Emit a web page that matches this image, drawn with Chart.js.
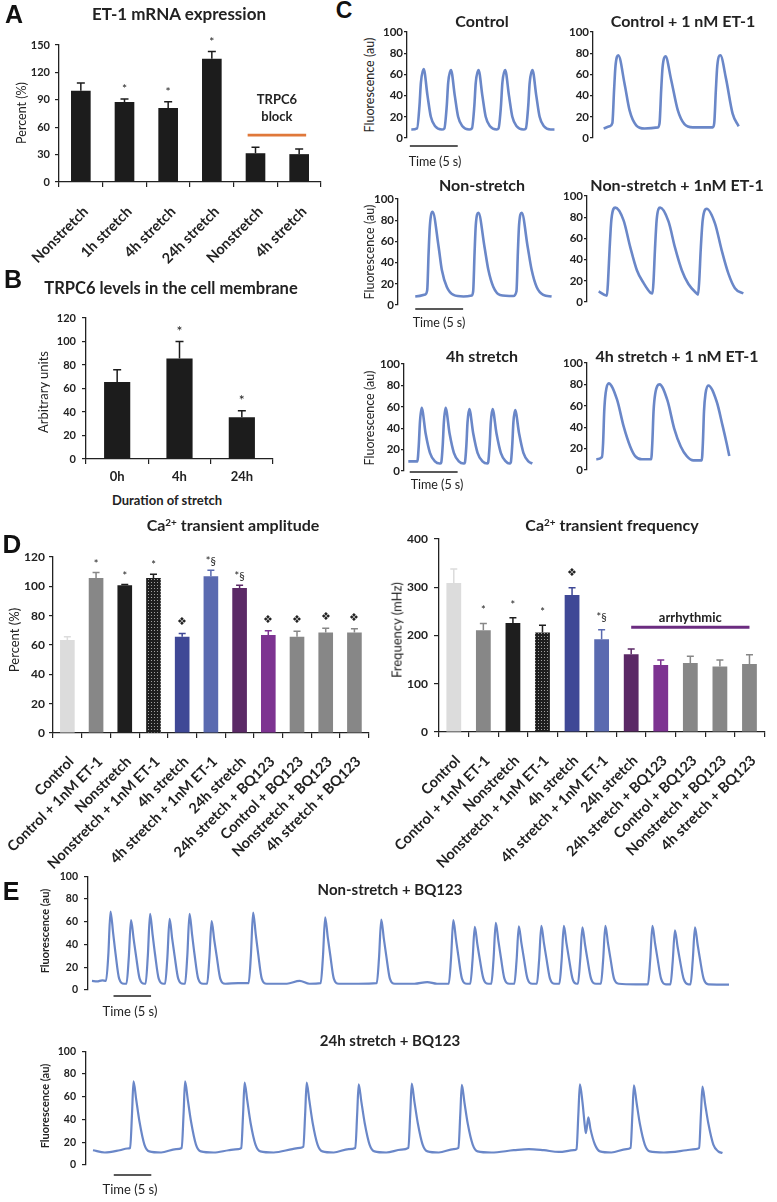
<!DOCTYPE html>
<html>
<head>
<meta charset="utf-8">
<script src="https://cdn.jsdelivr.net/npm/chart.js@4/dist/chart.umd.min.js"></script>
<style>
  body { margin: 0; background: #fff; width: 777px; height: 1202px; position: relative; overflow: hidden; }
  canvas { position: absolute; }
  .lbl { position: absolute; white-space: nowrap; line-height: 1; color: #222; font-family: Lato, "Open Sans", sans-serif; }
  .lbl sup { font-size: 0.62em; vertical-align: 0.55em; }
  .panel { font-family: "Liberation Sans", Arial, sans-serif; font-weight: 700; color: #111; }
</style>
</head>
<body>
<script>
// ---- data ----
const catA = ['Nonstretch', '1h stretch', '4h stretch', '24h stretch', 'Nonstretch', '4h stretch'];
const valA = [100, 87.5, 81, 135, 31.5, 30.5];
const errA = [108.5, 91, 88, 143, 38, 36];
const sigA = ['', '*', '*', '*', '', ''];

const catB = ['0h', '4h', '24h'];
const valB = [65.5, 85.5, 35.5];
const errB = [76, 100, 41];
const sigB = ['', '*', '*'];

const catD = ['Control', 'Control + 1nM ET-1', 'Nonstretch', 'Nonstretch + 1nM ET-1', '4h stretch',
  '4h stretch + 1nM ET-1', '24h stretch', '24h stretch + BQ123', 'Control + BQ123',
  'Nonstretch + BQ123', '4h stretch + BQ123'];
const ampD = [63.4, 105.7, 100.7, 105.7, 65.7, 106.9, 98.9, 66.8, 65.7, 68.6, 68.6];
const ampErr = [65.7, 109.4, 101.2, 108.2, 67.9, 110.9, 100.7, 69.7, 69.3, 71.5, 71.1];
const ampSig = ['', '*', '*', '*', '❖', '*§', '*§', '❖', '❖', '❖', '❖'];
const freqD = [309, 211, 226, 206, 284, 192, 161, 139, 143, 136, 141];
const freqErr = [338, 225, 237, 221, 299, 212, 172, 149, 157, 149, 160];
const freqSig = ['', '*', '*', '*', '❖', '*§', '', '', '', '', ''];

const trpc6Block = { from: 3.82, to: 5.16, level: 51.3 };
const arrhythmic = { from: 6, to: 10, level: 217 };

// fluorescence traces: [time (s), fluorescence (au)]
const ctrlTrace = [[0.45,8],[1.05,9],[1.3,30],[1.45,52],[1.74,65],[2.14,40],[2.49,20],[2.94,11],[3.64,8],
  [3.9,9],[4.15,30],[4.3,52],[4.59,64],[4.99,40],[5.34,20],[5.79,11],[6.49,8],
  [6.78,9],[7.03,30],[7.18,52],[7.47,64],[7.87,40],[8.22,20],[8.67,11],[9.37,8],
  [9.56,9],[9.81,30],[9.96,52],[10.25,64],[10.65,40],[11.0,20],[11.45,11],[12.15,8],
  [12.41,9],[12.66,30],[12.81,52],[13.1,64],[13.5,40],[13.85,20],[14.3,11],[15.0,8],[15.4,8]];
const ctrlEt1Trace = [[1.11,9],[1.74,11],[2.02,14],[2.2,45],[2.35,68],[2.64,78],[3.3,51],[3.82,26],[4.51,12],[5.38,9],
  [6.78,10],[6.95,14],[7.12,45],[7.27,67],[7.57,77],[8.16,55],[8.86,26],[9.55,13],[10.42,10],
  [12.5,10],[12.66,14],[12.83,45],[12.98,68],[13.3,78],[13.89,56],[14.58,23],[15.21,11]];
const nonStretchTrace = [[1.8,8],[2.85,10],[3.05,14],[3.2,50],[3.33,75],[3.61,88],[4.24,55],[4.58,33],[5.1,17],[5.8,9.5],[6.84,8],[7.71,9],
  [7.85,13],[8.0,50],[8.12,75],[8.4,87],[9.03,55],[9.44,33],[9.96,17],[10.66,9.5],[12.05,8.5],
  [12.37,13],[12.52,50],[12.64,75],[12.92,87],[13.54,55],[13.96,33],[14.48,17],[15.17,9.5],[16.04,8]];
const nonStretchEt1Trace = [[1.22,10],[2.08,6],[2.2,20],[2.36,50],[2.55,78],[2.95,89],[3.82,77],[4.51,52],[5.21,30],[5.9,18],[6.6,9],[6.84,8],
  [6.95,20],[7.1,50],[7.28,78],[7.64,89],[8.51,76],[9.2,51],[9.9,30],[10.59,17],[11.46,8],[11.6,7],
  [11.72,20],[11.88,50],[12.08,77],[12.5,88],[13.37,74],[14.06,49],[14.76,27],[15.45,13],[16.32,8]];
const stretch4hTrace = [[0.45,9],[1.39,9],[1.55,25],[1.66,45],[1.84,59],[2.26,35],[2.71,17],[3.23,9],[3.75,7],
  [3.89,8],[4.05,25],[4.16,45],[4.34,59],[4.76,35],[5.21,17],[5.73,9],[6.24,7],
  [6.36,8],[6.52,25],[6.63,45],[6.81,58],[7.23,35],[7.68,17],[8.2,9],[8.71,7],
  [8.79,8],[8.95,25],[9.06,45],[9.24,58],[9.66,35],[10.11,17],[10.63,9],[11.0,7],
  [11.15,8],[11.31,25],[11.42,45],[11.6,57],[12.02,35],[12.47,17],[12.99,9],[13.4,7]];
const stretch4hEt1Trace = [[0.97,10],[1.56,12],[1.68,25],[1.8,55],[1.95,72],[2.26,81],[3.13,66],[3.82,41],[4.51,22],[5.03,13],[5.73,10],[6.7,10],
  [6.82,25],[6.95,55],[7.12,71],[7.57,80],[8.4,65],[9.1,39],[9.79,22],[10.42,13],[11.11,9],[11.98,9],
  [12.1,25],[12.22,55],[12.37,71],[12.67,79],[13.54,64],[14.17,41],[14.58,25],[14.86,13]];
const nsBq123Trace = [[0.53,8],[1.2,7.5],[1.9,8.5],
  [2.4,8],[2.7,30],[3.0,69],[3.35,50],[3.67,32],[4.15,10],[4.8,5.5],
  [5.13,5.5],[5.43,28],[5.73,61.5],[6.08,45],[6.4,30],[6.88,10],[7.53,5.5],
  [7.67,5.5],[7.97,30],[8.27,67],[8.62,48],[8.94,31],[9.42,10],[10.07,5.5],
  [10.27,5.5],[10.57,28],[10.87,62.5],[11.22,45],[11.54,30],[12.02,10],[12.67,5.5],
  [12.93,5.5],[13.23,30],[13.53,67],[13.88,48],[14.2,31],[14.68,10],[15.33,5.5],
  [15.87,5.5],[16.17,28],[16.47,60.5],[16.82,44],[17.14,30],[17.62,10],[18.27,5.5],
  [20.0,6],
  [21.4,6],[21.7,30],[22.0,68],[22.35,49],[22.67,32],[23.15,10],[23.8,5.5],
  [26.5,5.5],[28.2,8],[29.5,5.5],
  [31.0,6],[31.3,29],[31.6,64],[31.95,46],[32.27,31],[32.75,10],[33.4,5.5],
  [36.0,5.5],
  [38.47,6],[38.77,28],[39.07,62],[39.42,45],[39.74,30],[40.22,10],[40.87,5.5],
  [43.5,5.5],[45.2,7],[46.5,5.5],
  [48.07,5.5],[48.37,28],[48.67,61.5],[49.02,45],[49.34,30],[49.82,10],[50.47,5.5],
  [50.93,5.5],[51.23,26],[51.53,55.5],[51.88,40],[52.2,27],[52.68,10],[53.33,5.5],
  [53.73,5.5],[54.03,27],[54.33,59],[54.68,43],[55.0,29],[55.48,10],[56.13,5.5],
  [56.8,5.5],[57.1,26],[57.4,56],[57.75,41],[58.07,28],[58.55,10],[59.2,5.5],
  [59.8,5.5],[60.1,26],[60.4,56.5],[60.75,41],[61.07,28],[61.55,10],[62.2,5.5],
  [62.8,5.5],[63.1,26],[63.4,56.5],[63.75,41],[64.07,28],[64.55,10],[65.1,5.5],
  [65.27,5.5],[65.57,26],[65.87,55],[66.22,40],[66.54,27],[67.02,10],[67.67,5.5],
  [68.33,5.5],[68.63,26],[68.93,56.5],[69.28,41],[69.6,28],[70.08,10],[70.73,5.5],
  [73.0,5],
  [74.6,5],[74.9,26],[75.2,56.5],[75.55,41],[75.87,28],[76.35,10],[77.0,5],
  [77.6,5],[77.9,25],[78.2,52.5],[78.55,38],[78.87,26],[79.35,10],[80.0,5],
  [80.27,5],[80.57,26],[80.87,55],[81.22,40],[81.54,27],[82.02,10],[82.67,5],
  [85.4,4.8]];
const s24hBq123Trace = [[0.93,13],[2.5,11],[4.5,13],[5.5,14.5],
  [5.88,15],[6.13,45],[6.33,73.5],[6.68,58],[7.13,38],[7.78,18],[8.43,12],
  [10,11],[12,14],
  [12.75,15],[13.0,45],[13.2,73.5],[13.55,58],[14.0,38],[14.65,18],[15.3,12],
  [17,11],[19,13],[20.3,14],
  [20.68,15],[20.93,45],[21.13,72.5],[21.48,57],[21.93,37],[22.58,18],[23.23,12],
  [25,11],[27.5,14],[28.5,15],
  [28.95,16],[29.2,45],[29.4,72.5],[29.75,57],[30.2,37],[30.85,18],[31.5,12],
  [33,11],[35,14],
  [35.88,15],[36.13,45],[36.33,71],[36.68,56],[37.13,37],[37.78,18],[38.43,12],
  [40,11],[42,13.5],
  [42.95,15],[43.2,45],[43.4,71.5],[43.75,56],[44.2,37],[44.85,18],[45.5,12],
  [47,11],[49,14],
  [49.62,15],[49.87,45],[50.07,70.5],[50.42,55],[50.87,36],[51.52,18],[52.17,12],
  [54,11],[57,13],[59,14],[61,13],[63,11.5],[65,13],
  [65.35,14],[65.6,45],[65.8,71],[66.15,55],[66.45,35],[66.6,28],[66.93,42],[67.2,32],[67.8,18],[68.47,12],
  [70,11],[72,14],
  [72.55,15],[72.8,45],[73.0,70],[73.35,55],[73.8,36],[74.45,18],[75.1,12],
  [77,11],[80,13],[81.2,14],
  [81.68,15],[81.93,45],[82.13,69],[82.48,54],[82.93,36],[83.58,18],[84.23,12],[84.8,10.5]];
const barSeconds = 5;

// ---- styling ----
const INK = '#222';
const TRACE = '#6a87c8';
const colorsD = ['#dcdcdc', '#878787', '#1e1e1e', 'dots', '#3f4896', '#5a6ab0', '#5b2966', '#7d3391', '#878787', '#878787', '#878787'];
Chart.defaults.font.family = 'Lato, "Open Sans", sans-serif';
Chart.defaults.color = INK;

function txt(s, x, y, size, weight, rot, cls) {
  const d = document.createElement('div');
  d.className = 'lbl' + (cls ? ' ' + cls : '');
  d.innerHTML = s;
  d.style.left = x + 'px';
  d.style.top = y + 'px';
  d.style.fontSize = size + 'px';
  d.style.fontWeight = weight;
  d.style.transform = 'translate(-50%,-50%)' + (rot ? ' rotate(-90deg)' : '');
  document.body.appendChild(d);
}

// pad.l = y-axis width, pad.ex = extra canvas room to the left of the y axis
function mkCanvas(box, pad) {
  const c = document.createElement('canvas');
  const ex = pad.ex || 0;
  const w = Math.round(box.r - box.l + pad.l + pad.r + ex);
  const h = Math.round(box.b - box.t + pad.t + pad.b);
  c.width = w; c.height = h;
  c.style.width = w + 'px'; c.style.height = h + 'px';
  c.style.left = (box.l - pad.l - ex) + 'px';
  c.style.top = (box.t - pad.t) + 'px';
  document.body.appendChild(c);
  return c;
}

function dotPattern(ctx) {
  const p = document.createElement('canvas');
  p.width = 3; p.height = 3;
  const g = p.getContext('2d');
  g.fillStyle = '#1e1e1e'; g.fillRect(0, 0, 3, 3);
  g.fillStyle = '#a0a0a0'; g.fillRect(1, 1, 1, 1);
  return ctx.createPattern(p, 'repeat');
}

function yAxis(min, max, step, size, width, tick, padding) {
  return {
    min: min, max: max,
    ticks: { stepSize: step, padding: padding, color: INK, font: { size: size, weight: 'bold' } },
    grid: { drawOnChartArea: false, drawTicks: true, tickLength: tick, color: INK, lineWidth: 1.2 },
    border: { color: INK, width: 1.3 },
    afterFit: s => { s.width = width; }
  };
}

// error bars, significance marks and annotations
function extras(o) {
  return {
    id: 'extras',
    afterDatasetsDraw(chart) {
      const ctx = chart.ctx, xs = chart.scales.x, ys = chart.scales.y;
      ctx.save();
      chart.getDatasetMeta(0).data.forEach((bar, i) => {
        const top = ys.getPixelForValue(o.errors[i]);
        ctx.strokeStyle = o.errColors[i];
        ctx.lineWidth = 1.5;
        ctx.beginPath();
        ctx.moveTo(bar.x, bar.y); ctx.lineTo(bar.x, top);
        ctx.moveTo(bar.x - o.cap, top); ctx.lineTo(bar.x + o.cap, top);
        ctx.stroke();
        const s = o.sig[i];
        if (s) {
          ctx.fillStyle = INK;
          ctx.font = o.sigFont;
          ctx.textAlign = 'center';
          ctx.textBaseline = 'middle';
          ctx.fillText(s, bar.x, top - o.sigGap + (s[0] === '*' ? 3 : 0));
        }
      });
      (o.lines || []).forEach(l => {
        ctx.strokeStyle = l.color; ctx.lineWidth = l.width;
        ctx.beginPath();
        ctx.moveTo(xs.getPixelForValue(l.from), ys.getPixelForValue(l.level));
        ctx.lineTo(xs.getPixelForValue(l.to), ys.getPixelForValue(l.level));
        ctx.stroke();
      });
      (o.notes || []).forEach(n => {
        ctx.fillStyle = INK; ctx.font = n.font;
        ctx.textAlign = 'center'; ctx.textBaseline = 'middle';
        ctx.fillText(n.text, xs.getPixelForValue(n.x), ys.getPixelForValue(n.y));
      });
      ctx.restore();
    }
  };
}

function barChart(box, pad, o) {
  const c = mkCanvas(box, pad);
  const ctx = c.getContext('2d');
  const fill = o.colors.map(k => k === 'dots' ? dotPattern(ctx) : k);
  new Chart(c, {
    type: 'bar',
    data: { labels: o.labels, datasets: [{ data: o.values, backgroundColor: fill, barPercentage: o.bp, categoryPercentage: 1 }] },
    options: {
      responsive: false, animation: false,
      layout: { padding: { left: pad.ex || 0, top: pad.t, right: pad.r, bottom: 0 } },
      plugins: { legend: { display: false }, tooltip: { enabled: false } },
      scales: {
        x: {
          grid: { offset: true, drawOnChartArea: false, tickLength: 5, color: INK, lineWidth: 1.2 },
          border: { color: INK, width: 1.3 },
          ticks: { autoSkip: false, maxRotation: o.rot, minRotation: o.rot, padding: o.xpad, labelOffset: o.xshift || 0,
            color: INK, font: { size: o.xsize, weight: 'bold' } },
          afterFit: s => { s.height = pad.b; }
        },
        y: yAxis(o.ymin, o.ymax, o.step, o.ysize, pad.l, o.tick, o.ypad)
      }
    },
    plugins: [extras(o)]
  });
}

function traceChart(box, pad, pts, xmax, o) {
  const c = mkCanvas(box, pad);
  const plugins = [];
  if (o.bar) {
    plugins.push({
      id: 'timebar',
      afterDraw(chart) {
        const xs = chart.scales.x, a = chart.chartArea, ctx = chart.ctx;
        ctx.save();
        ctx.strokeStyle = INK; ctx.lineWidth = 1.6;
        ctx.beginPath();
        ctx.moveTo(xs.getPixelForValue(o.bar.from), a.bottom + o.bar.dy);
        ctx.lineTo(xs.getPixelForValue(o.bar.from + barSeconds), a.bottom + o.bar.dy);
        ctx.stroke();
        ctx.restore();
      }
    });
  }
  new Chart(c, {
    type: 'line',
    data: { datasets: [{ data: pts.map(p => ({ x: p[0], y: p[1] })), borderColor: TRACE, borderWidth: o.lw,
      pointRadius: 0, cubicInterpolationMode: 'monotone', fill: false }] },
    options: {
      responsive: false, animation: false,
      layout: { padding: { left: 0, top: pad.t, right: pad.r, bottom: pad.b } },
      plugins: { legend: { display: false }, tooltip: { enabled: false } },
      scales: {
        x: { type: 'linear', min: 0, max: xmax, display: false },
        y: yAxis(0, 100, 20, o.ysize, pad.l, o.tick, o.ypad)
      }
    },
    plugins: plugins
  });
}

// ---- panel A ----
barChart({ l: 59, t: 45, r: 321, b: 182 }, { l: 40, ex: 19, t: 22, r: 8, b: 92 }, {
  labels: catA, values: valA, errors: errA, sig: sigA,
  colors: catA.map(() => '#1c1c1c'), errColors: catA.map(() => '#1c1c1c'),
  bp: 0.45, rot: 45, xsize: 14.5, xpad: 16, xshift: 5, ymin: 0, ymax: 150, step: 30, ysize: 11, tick: 4, ypad: 5,
  cap: 4, sigFont: '12px Lato', sigGap: 12.5,
  lines: [{ from: trpc6Block.from, to: trpc6Block.to, level: trpc6Block.level, color: '#e0783a', width: 2.6 }],
  notes: [{ x: 4.49, y: 90, text: 'TRPC6', font: 'bold 13px Lato' }, { x: 4.49, y: 71, text: 'block', font: 'bold 13px Lato' }]
});

// ---- panel B ----
barChart({ l: 86, t: 318, r: 273, b: 459 }, { l: 40, t: 22, r: 8, b: 30 }, {
  labels: catB, values: valB, errors: errB, sig: sigB,
  colors: catB.map(() => '#1c1c1c'), errColors: catB.map(() => '#1c1c1c'),
  bp: 0.42, rot: 0, xsize: 13, xpad: 5, ymin: 0, ymax: 120, step: 20, ysize: 11, tick: 4, ypad: 6,
  cap: 4, sigFont: '14px Lato', sigGap: 13
});

// ---- panel C ----
const cMax = 16.5, cW = 158;
const cOpt = { lw: 2.6, ysize: 11.5, tick: 3, ypad: 1 };
traceChart({ l: 407, t: 32, r: 407 + cW, b: 138 }, { l: 30, t: 9, r: 4, b: 14 }, ctrlTrace, cMax,
  Object.assign({ bar: { from: 0.3, dy: 8 } }, cOpt));
traceChart({ l: 593, t: 32, r: 593 + cW, b: 138 }, { l: 30, t: 9, r: 4, b: 14 }, ctrlEt1Trace, cMax, cOpt);
traceChart({ l: 398, t: 199, r: 398 + cW, b: 305 }, { l: 30, t: 9, r: 4, b: 14 }, nonStretchTrace, cMax,
  Object.assign({ bar: { from: 1.8, dy: 4 } }, cOpt));
traceChart({ l: 587, t: 196, r: 587 + cW, b: 302 }, { l: 30, t: 9, r: 4, b: 14 }, nonStretchEt1Trace, cMax, cOpt);
traceChart({ l: 404, t: 364, r: 404 + cW, b: 471 }, { l: 30, t: 9, r: 4, b: 14 }, stretch4hTrace, cMax,
  Object.assign({ bar: { from: 0.6, dy: 1 } }, cOpt));
traceChart({ l: 587, t: 363, r: 587 + cW, b: 470 }, { l: 30, t: 9, r: 4, b: 14 }, stretch4hEt1Trace, cMax, cOpt);

// ---- panel D ----
barChart({ l: 53, t: 557, r: 376, b: 733 }, { l: 38, ex: 15, t: 24, r: 6, b: 145 }, {
  labels: catD, values: ampD, errors: ampErr, sig: ampSig,
  colors: colorsD, errColors: colorsD.map(k => k === 'dots' ? '#1e1e1e' : k),
  bp: 0.51, rot: 45, xsize: 14.5, xpad: 15, xshift: 4, ymin: 0, ymax: 120, step: 20, ysize: 12, tick: 4, ypad: 4,
  cap: 3.5, sigFont: '11px Lato', sigGap: 11.5
});
barChart({ l: 439, t: 539, r: 772, b: 732 }, { l: 36, ex: 22, t: 24, r: 5, b: 145 }, {
  labels: catD, values: freqD, errors: freqErr, sig: freqSig,
  colors: colorsD, errColors: colorsD.map(k => k === 'dots' ? '#1e1e1e' : k),
  bp: 0.5, rot: 45, xsize: 14.5, xpad: 15, xshift: 4, ymin: 0, ymax: 400, step: 100, ysize: 12, tick: 5, ypad: 6,
  cap: 3.5, sigFont: '11px Lato', sigGap: 15.5,
  lines: [{ from: arrhythmic.from, to: arrhythmic.to, level: arrhythmic.level, color: '#6b2c80', width: 3 }],
  notes: [{ x: 8, y: 236, text: 'arrhythmic', font: 'bold 13px Lato' }]
});

// ---- panel E ----
const eMax = 87, eW = 652.5;
const eOpt = { lw: 2.2, ysize: 10.5, tick: 4, ypad: 6 };
traceChart({ l: 88, t: 872, r: 88 + eW, b: 990 }, { l: 34, t: 8, r: 4, b: 14 }, nsBq123Trace, eMax,
  Object.assign({ bar: { from: 3.4, dy: 6 } }, eOpt));
traceChart({ l: 86, t: 1047, r: 86 + eW, b: 1165 }, { l: 34, t: 8, r: 4, b: 14 }, s24hBq123Trace, eMax,
  Object.assign({ bar: { from: 3.7, dy: 10 } }, eOpt));

// ---- text ----
txt('A', 14, 14, 25, 700, false, 'panel');
txt('B', 13, 279, 25, 700, false, 'panel');
txt('C', 344, 10, 23, 700, false, 'panel');
txt('D', 12, 544, 26, 700, false, 'panel');
txt('E', 11, 891, 25, 700, false, 'panel');

txt('ET-1 mRNA expression', 179, 13, 17, 700);
txt('Percent (%)', 22, 113, 12.5, 400, true);

txt('TRPC6 levels in the cell membrane', 171, 288, 16.5, 700);
txt('Arbitrary units', 43, 392, 13, 400, true);
txt('Duration of stretch', 167, 500, 13, 700);

txt('Control', 482, 21, 16, 700);
txt('Control + 1 nM ET-1', 683, 21, 16, 700);
txt('Non-stretch', 482, 185, 16, 700);
txt('Non-stretch + 1nM ET-1', 677, 185, 16, 700);
txt('4h stretch', 482, 356, 16, 700);
txt('4h stretch + 1 nM ET-1', 677, 356, 16, 700);
txt('Fluorescence (au)', 370, 85, 12.5, 400, true);
txt('Fluorescence (au)', 370, 252, 12.5, 400, true);
txt('Fluorescence (au)', 370, 418, 12.5, 400, true);
txt('Time (5 s)', 435, 162, 12.5, 400);
txt('Time (5 s)', 439, 323, 12.5, 400);
txt('Time (5 s)', 437, 485, 12.5, 400);

txt('Ca<sup>2+</sup> transient amplitude', 233, 525, 16, 700);
txt('Ca<sup>2+</sup> transient frequency', 612, 525, 16, 700);
txt('Percent (%)', 14, 640, 13, 400, true);
txt('Frequency (mHz)', 397, 630, 13, 400, true);

txt('Non-stretch + BQ123', 390, 889, 15, 700);
txt('24h stretch + BQ123', 390, 1040, 15, 700);
txt('Fluorescence (au)', 44, 931, 11, 700, true);
txt('Fluorescence (au)', 44, 1106, 11, 700, true);
txt('Time (5 s)', 130, 1011, 13, 400);
txt('Time (5 s)', 130, 1189, 13, 400);
</script>
</body>
</html>
